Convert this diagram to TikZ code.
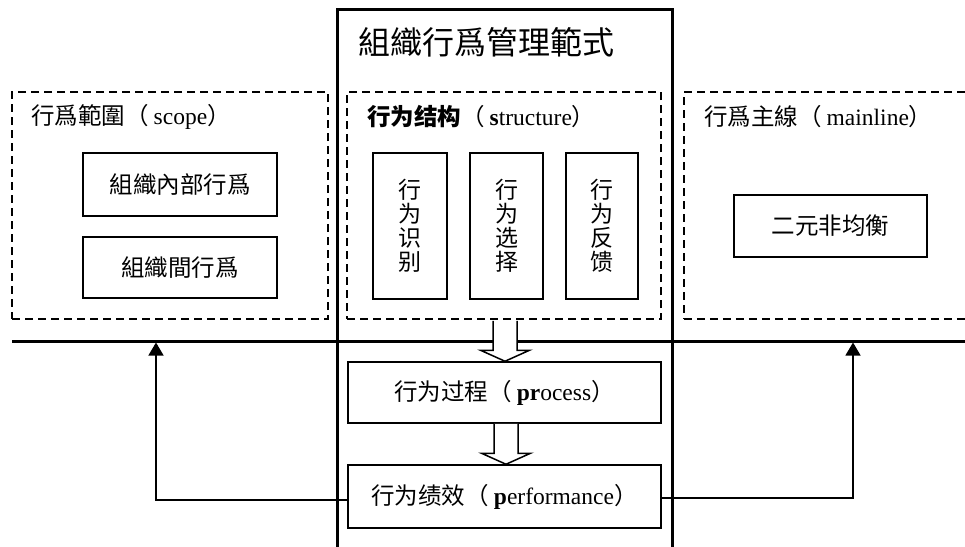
\documentclass[tikz,border=0pt]{standalone}
\usepackage{fontspec}
\setmainfont{Liberation Serif}
\newfontfamily\cjk{Noto Sans CJK SC}
\usetikzlibrary{arrows.meta,calc}
\newcommand\C[1]{{\cjk #1}}
\newcommand\lp{{\cjk （}\hspace{5pt}}
\newcommand\blockarrow[2]{\draw[barrow] ($(#1)+(-12,0)$) -- ($(#2)+(-12,-11)$) -- ($(#2)+(-24.5,-11)$) -- (#2) -- ($(#2)+(24.5,-11)$) -- ($(#2)+(12,-11)$) -- ($(#1)+(12,0)$);}
\begin{document}
\begin{tikzpicture}[x=1pt,y=-1pt,
  txt/.style={inner sep=0pt, font=\fontsize{23.5}{26}\selectfont},
  box/.style={draw, line width=1.5pt, inner sep=0pt, align=center, font=\fontsize{23.5}{26}\selectfont},
  vbox/.style={box, font=\fontsize{23}{24}\selectfont\cjk},
  dbox/.style={draw, line width=1.5pt, dash pattern=on 8pt off 5pt, inner sep=0pt},
  fb/.style={line width=1.3pt, -{Triangle[length=13pt,width=15pt]}},
  barrow/.style={draw, fill=white, line width=1.5pt}]
\useasboundingbox (0,0) rectangle (965,546);
% main frame
\coordinate (fbl) at (337,552); \coordinate (ftl) at (337,9);
\coordinate (ftr) at (672,9); \coordinate (fbr) at (672,552);
\draw[line width=3pt] (fbl) -- (ftl) -- (ftr) -- (fbr);
% horizontal line
\coordinate (hl1) at (12,341); \coordinate (hl2) at (970,341);
\draw[line width=3pt] (hl1) -- (hl2);
% title
\node[inner sep=0pt, font=\fontsize{32}{36}\selectfont] (title) at (486,42) {\C{組織行爲管理範式}};
% dashed groups
\node[dbox, minimum width=316pt, minimum height=227pt] (scope) at (170,205.5) {};
\node[dbox, minimum width=314pt, minimum height=227pt] (struct) at (504,205.5) {};
\node[dbox, minimum width=300pt, minimum height=227pt, anchor=west] (main) at (683,205.5) {};
% labels
\node[txt, anchor=west] (scopelbl) at (31,117) {\C{行爲範圍}\lp scope\C{）}};
\node[txt, anchor=west] (structlbl) at (367,117) {{\cjk\bfseries 行为结构}\lp\textbf{s}tructure\C{）}};
\node[txt, anchor=west] (mainlbl) at (704,117) {\C{行爲主線}\lp mainline\C{）}};
% inner boxes
\node[box, minimum width=194pt, minimum height=63pt] (inb1) at (180,184.5) {\C{組織內部行爲}};
\node[box, minimum width=194pt, minimum height=61pt] (inb2) at (180,267.5) {\C{組織間行爲}};
\node[vbox, minimum width=74pt, minimum height=146pt] (vb1) at (410,226) {行\\为\\识\\别};
\node[vbox, minimum width=73pt, minimum height=146pt] (vb2) at (506.5,226) {行\\为\\选\\择};
\node[vbox, minimum width=72pt, minimum height=146pt] (vb3) at (602,226) {行\\为\\反\\馈};
\node[box, minimum width=193pt, minimum height=62pt] (mbox) at (830.5,226) {\C{二元非均衡}};
\node[box, minimum width=313pt, minimum height=61pt] (proc) at (504.5,392.5) {\C{行为过程}\lp\textbf{pr}ocess\C{）}};
\node[box, minimum width=313pt, minimum height=63pt] (perf) at (504.5,496.5) {\C{行为绩效}\lp\textbf{p}erformance\C{）}};
% block arrows
\coordinate (a1s) at ($(struct.south)+(1,1)$);
\coordinate (a1e) at (a1s |- proc.north);
\blockarrow{a1s}{a1e}
\coordinate (a2s) at ($(proc.south)+(1.5,0)$);
\coordinate (a2e) at (a2s |- perf.north);
\blockarrow{a2s}{a2e}
% feedback arrows
\coordinate (lt) at (156,342.5);
\coordinate (rt) at (853,342.5);
\draw[fb] ([yshift=-3.5pt]perf.west) -| (lt);
\draw[fb] ([yshift=-1.5pt]perf.east) -| (rt);
\end{tikzpicture}
\end{document}
